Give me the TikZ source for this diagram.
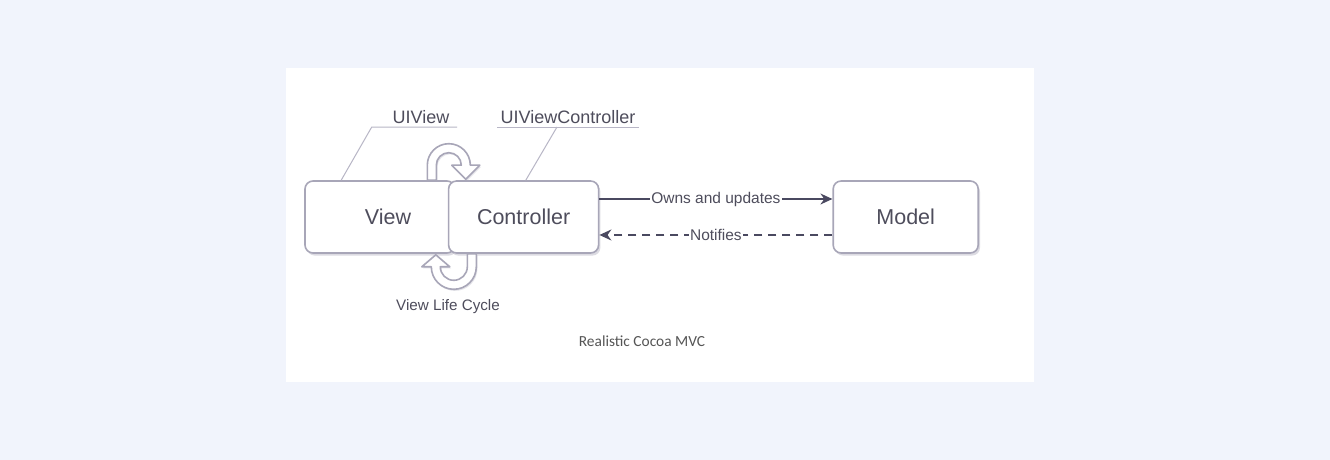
\documentclass[tikz,border=0pt]{standalone}
\usepackage{fontspec}
\setmainfont{Liberation Sans}
\newfontfamily\captionfont{Carlito}
\usetikzlibrary{positioning,arrows.meta,shadows}
\definecolor{pagebg}{HTML}{F1F4FC}
\definecolor{boxline}{HTML}{A8A6B8}
\definecolor{labeltext}{HTML}{4E4D5C}
\definecolor{arrowcol}{HTML}{4A4960}
\definecolor{leadercol}{HTML}{B8B6C6}
\definecolor{captiontext}{HTML}{555555}
\tikzset{
  >={Stealth[length=6pt,width=5.5pt]},
  box/.style={
    rectangle,
    rounded corners=4pt,
    draw=boxline, line width=0.8pt,
    fill=white,
    minimum width=75pt,
    minimum height=36pt,
    text=labeltext,
    font=\fontsize{10.75}{12}\selectfont,
    drop shadow={shadow xshift=0.9pt, shadow yshift=-1.3pt, opacity=0.4, fill=boxline}},
  tag/.style={text=labeltext, font=\fontsize{9}{10}\selectfont, inner sep=1.5pt},
  leader/.style={draw=leadercol, line width=0.5pt},
  flow/.style={draw=arrowcol, line width=0.75pt, ->},
  flowlabel/.style={midway, fill=white, inner sep=0.5pt, text=labeltext,
    font=\fontsize{7.75}{9}\selectfont},
  lifecycle/.style={
    draw=boxline, fill=white, line width=0.8pt, line join=round,
    drop shadow={shadow xshift=0.6pt, shadow yshift=-0.8pt, opacity=0.3, fill=boxline}},
}

\begin{document}
\begin{tikzpicture}[x=1pt, y=1pt]
  % page and card
  \fill[pagebg] (0,0) rectangle (665,230);
  \fill[white] (143,39) rectangle (517,196);
  %% the three boxes
  \node[box] (view) at (190,121.5) {\hspace*{8pt}View};
  \node[box, right=-4pt of view] (ctrl) {Controller};
  \node[box, minimum width=72.5pt, right=116.5pt of ctrl] (model) {Model};
  %% controller <-> model
  \draw[flow] ([yshift=9pt]ctrl.east) -- ([yshift=9pt]model.west)
    node[flowlabel] {Owns and updates};
  \draw[flow, dash pattern=on 4pt off 3pt] ([yshift=-9pt]model.west) -- ([yshift=-9pt]ctrl.east)
    node[flowlabel] {Notifies};
  %% class names
  \node[tag] (uiview) at (210.5,171.5) {UIView};
  \node[tag] (uivc) at (284,171.5) {UIViewController};
  \draw[leader] ([xshift=2.25pt]uiview.south east) -- ([xshift=-8.75pt]uiview.south west)
    -- ([xshift=18.5pt]view.north west);
  \draw[leader] (uivc.south east) -- (uivc.south west);
  \draw[leader] ([xshift=-5.5pt]uivc.south) -- ([xshift=39pt]ctrl.north west);
  %% view life cycle arrows
  \begin{scope}[shift={(ctrl.north west)}, x=0.5pt, y=0.5pt]
    \draw[lifecycle] (-20.5,0) -- (-20.5,15) arc[start angle=180, end angle=0, radius=21.5]
      -- (32,15) -- (18,1) -- (4,15) -- (13.5,15)
      arc[start angle=0, end angle=180, radius=12.5] -- (-11.5,0) -- cycle;
  \end{scope}
  \begin{scope}[shift={(ctrl.south west)}, x=0.5pt, y=0.5pt]
    \draw[lifecycle] (28.5,0) -- (28.5,-13) arc[start angle=0, end angle=-180, radius=22.5]
      -- (-26,-13) -- (-12,-1) -- (2,-13) -- (-7.5,-13)
      arc[start angle=-180, end angle=0, radius=13.5] -- (19.5,0) -- cycle;
  \end{scope}
  \node[text=labeltext, font=\fontsize{7.6}{9}\selectfont] (cyclelabel) at (224,76.5) {View Life Cycle};
  %% caption
  \node[text=captiontext, font=\captionfont\fontsize{7.7}{9}\selectfont] (caption) at (321,59.5)
    {Realistic Cocoa MVC};
\end{tikzpicture}
\end{document}
